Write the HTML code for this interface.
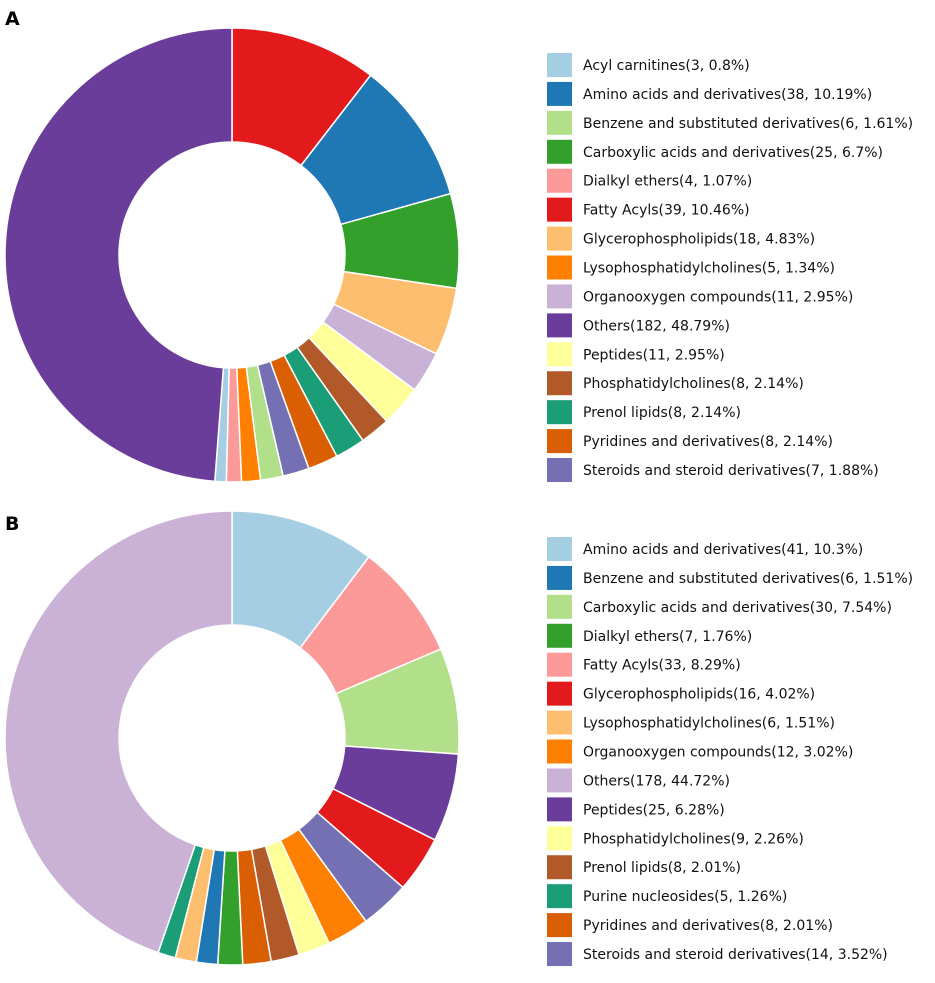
<!DOCTYPE html>
<html><head><meta charset="utf-8"><style>
body{margin:0;background:#fff;width:935px;height:978px;overflow:hidden}
svg text{font-family:"DejaVu Sans","Liberation Sans",sans-serif}
</style></head><body>
<svg id="chart" width="935" height="978">
<text x="5" y="25" font-size="19" font-weight="bold">A</text>
<text x="5" y="530" font-size="19" font-weight="bold">B</text>
</svg>
<script>
const catsA=["Acyl carnitines","Amino acids and derivatives","Benzene and substituted derivatives","Carboxylic acids and derivatives","Dialkyl ethers","Fatty Acyls","Glycerophospholipids","Lysophosphatidylcholines","Organooxygen compounds","Others","Peptides","Phosphatidylcholines","Prenol lipids","Pyridines and derivatives","Steroids and steroid derivatives"];
const valsA=[3,38,6,25,4,39,18,5,11,182,11,8,8,8,7];
const pctA=["0.8%","10.19%","1.61%","6.7%","1.07%","10.46%","4.83%","1.34%","2.95%","48.79%","2.95%","2.14%","2.14%","2.14%","1.88%"];
const catsB=["Amino acids and derivatives","Benzene and substituted derivatives","Carboxylic acids and derivatives","Dialkyl ethers","Fatty Acyls","Glycerophospholipids","Lysophosphatidylcholines","Organooxygen compounds","Others","Peptides","Phosphatidylcholines","Prenol lipids","Purine nucleosides","Pyridines and derivatives","Steroids and steroid derivatives"];
const valsB=[41,6,30,7,33,16,6,12,178,25,9,8,5,8,14];
const pctB=["10.3%","1.51%","7.54%","1.76%","8.29%","4.02%","1.51%","3.02%","44.72%","6.28%","2.26%","2.01%","1.26%","2.01%","3.52%"];
const palette=["#a6cee3","#1f78b4","#b2df8a","#33a02c","#fb9a99","#e31a1c","#fdbf6f","#ff7f00","#cab2d6","#6a3d9a","#ffff99","#b15928","#1b9e77","#d95f02","#7570b3"];
const svg=document.getElementById('chart');
const NS='http://www.w3.org/2000/svg';
function mk(t,a){const e=document.createElementNS(NS,t);for(const k in a)e.setAttribute(k,a[k]);svg.appendChild(e);return e;}
function draw(cats,vals,pcts,cx,cy,legY,tag){
  const R=227,r=113;
  const total=vals.reduce((a,b)=>a+b,0);
  const order=cats.map((c,i)=>i).filter(i=>cats[i]!=="Others").sort((a,b)=>vals[b]-vals[a]);
  order.push(cats.indexOf("Others"));
  let ang=0;
  order.forEach(i=>{
    const a0=ang,a1=ang+vals[i]/total*2*Math.PI;ang=a1;
    const p=(rad,a)=>[cx+rad*Math.sin(a),cy-rad*Math.cos(a)];
    const [x0,y0]=p(R,a0),[x1,y1]=p(R,a1),[x2,y2]=p(r,a1),[x3,y3]=p(r,a0);
    const lg=(a1-a0)>Math.PI?1:0;
    const e=mk('path',{d:`M${x0},${y0}A${R},${R} 0 ${lg} 1 ${x1},${y1}L${x2},${y2}A${r},${r} 0 ${lg} 0 ${x3},${y3}Z`,fill:palette[i],stroke:'#fff','stroke-width':1.5});
    
    
  });
  cats.forEach((c,i)=>{
    const y=legY+i*28.93;
    const s=mk('rect',{x:547,y:y-12,width:25,height:24,fill:palette[i]});
    
    
    const t=mk('text',{x:583,y:y+5,'font-size':14,fill:'#111'});
    t.textContent=`${c}(${vals[i]}, ${pcts[i]})`;
    
    
  });
}
draw(catsA,valsA,pctA,232,255,65,'a');
draw(catsB,valsB,pctB,232,738,549,'b');
</script>
</body></html>
